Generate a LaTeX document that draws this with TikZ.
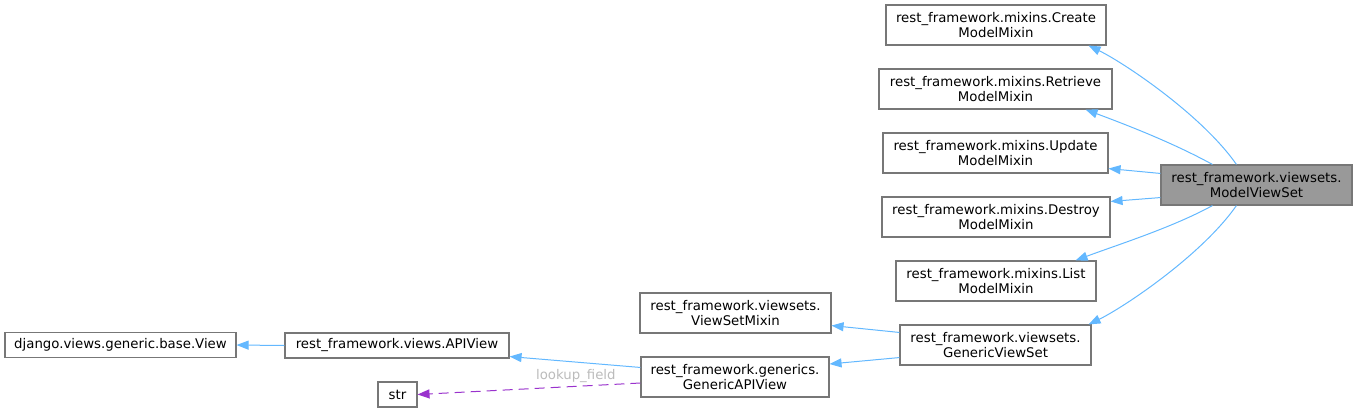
\documentclass[tikz,border=0pt]{standalone}
\usepackage{fontspec}
\setmainfont{DejaVu Sans}
\usetikzlibrary{arrows.meta,calc}
\definecolor{inhblue}{HTML}{63B8FF}
\definecolor{usepurple}{HTML}{9A32CD}
\definecolor{lblgrey}{HTML}{BBBBBB}
\definecolor{boxborder}{HTML}{777777}
\definecolor{curfill}{HTML}{999999}
\begin{document}
\begin{tikzpicture}[x=1pt,y=-1pt,
  cls/.style={draw=boxborder, line width=1.1pt, fill=white, rectangle, inner sep=0pt,
    align=center, font=\fontsize{13.3}{15}\selectfont, text=black},
  cls2/.style={cls, minimum height=40pt},
  cls1/.style={cls, minimum height=25pt},
  inh/.style={draw=inhblue, line width=1pt, -{Triangle[length=12pt,width=9pt]}},
  usee/.style={draw=usepurple, line width=1pt, dash pattern=on 10pt off 6pt, -{Triangle[length=12pt,width=9pt]}},
  lbl/.style={font=\fontsize{13.3}{15}\selectfont, text=lblgrey}
]
\useasboundingbox (0,0) rectangle (1357,413);
\node[cls2, minimum width=220pt] (create) at (996,25) {rest\_framework.mixins.Create\\ModelMixin};
\node[cls2, minimum width=233pt] (retrieve) at (995.5,89) {rest\_framework.mixins.Retrieve\\ModelMixin};
\node[cls2, minimum width=225pt] (update) at (995.5,153) {rest\_framework.mixins.Update\\ModelMixin};
\node[cls2, minimum width=228pt] (destroy) at (996,217) {rest\_framework.mixins.Destroy\\ModelMixin};
\node[cls2, minimum width=200pt] (list) at (996,281) {rest\_framework.mixins.List\\ModelMixin};
\node[cls2, minimum width=191pt, fill=curfill] (mvs) at (1256.5,185) {rest\_framework.viewsets.\\ModelViewSet};
\node[cls2, minimum width=191pt] (vsm) at (735.5,313) {rest\_framework.viewsets.\\ViewSetMixin};
\node[cls2, minimum width=188pt] (gapi) at (735,377) {rest\_framework.generics.\\GenericAPIView};
\node[cls2, minimum width=191pt] (gvs) at (995.5,345) {rest\_framework.viewsets.\\GenericViewSet};
\node[cls1, minimum width=231pt] (django) at (120.5,345) {django.views.generic.base.View};
\node[cls1, minimum width=224pt] (apiview) at (397,345.5) {rest\_framework.views.APIView};
\node[cls1, minimum width=39pt] (str) at (397.5,394.5) {str};

% ModelViewSet -> mixins
\draw[inh] ([xshift=76pt]mvs.north west) .. controls +(-35,-50) and +(35,17) .. ([xshift=-18pt]create.south east);
\draw[inh] ([xshift=52pt]mvs.north west) .. controls +(-40,-22) and +(40,15) .. ([xshift=-27pt]retrieve.south east);
\draw[inh] ([yshift=-9pt]mvs.north west) -- ([yshift=5pt]update.south east);
\draw[inh] ([yshift=8pt]mvs.south west) -- ([yshift=-5pt]destroy.north east);
\draw[inh] ([xshift=52pt]mvs.south west) .. controls +(-40,22) and +(40,-15) .. ([xshift=-21pt]list.north east);
\draw[inh] ([xshift=76pt]mvs.south west) .. controls +(-35,50) and +(35,-17) .. ([xshift=-3pt]gvs.north east);
% GenericViewSet
\draw[inh] ([yshift=-8pt]gvs.north west) -- ([yshift=8pt]vsm.south east);
\draw[inh] ([yshift=8pt]gvs.south west) -- ([yshift=13pt]gapi.east);
% GenericAPIView
\draw[inh] ([yshift=-11pt]gapi.north west) -- ([yshift=2pt]apiview.south east);
\draw[inh] (apiview.west) -- (django.east);
\draw[usee] ([yshift=-6pt]gapi.west) -- node[lbl, pos=0.29, above=0pt] {lookup\_field} (str.east);
\end{tikzpicture}
\end{document}
